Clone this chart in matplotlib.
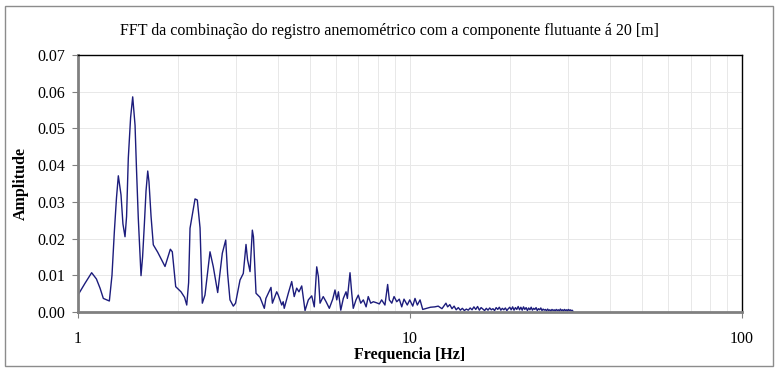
import matplotlib
matplotlib.use("Agg")
import matplotlib.pyplot as plt
from matplotlib.patches import Rectangle
from matplotlib.ticker import FixedLocator, NullFormatter, FormatStrFormatter

# values (frequency in Hz, amplitude)
freq_low = [1.000, 1.053, 1.103, 1.140, 1.169, 1.196, 1.247, 1.270, 1.291, 1.310,
            1.327, 1.352, 1.370, 1.390, 1.405, 1.422, 1.445, 1.466, 1.490, 1.505,
            1.524, 1.553, 1.570, 1.589, 1.608, 1.627, 1.641, 1.665, 1.691, 1.743,
            1.834, 1.903, 1.929, 1.975, 2.049, 2.100, 2.132, 2.160, 2.181, 2.258,
            2.294, 2.338, 2.375, 2.419, 2.505, 2.563, 2.642, 2.728, 2.793, 2.830,
            2.877, 2.944, 2.990, 3.084, 3.155, 3.215, 3.250, 3.306, 3.359, 3.385,
            3.446, 3.543, 3.650, 3.690, 3.823, 3.860, 3.977, 4.020, 4.118, 4.160,
            4.190, 4.310, 4.413, 4.490, 4.568, 4.640, 4.730, 4.840, 4.952, 5.070,
            5.160, 5.248, 5.310, 5.370]
amp_low = [0.0044, 0.0078, 0.0107, 0.0090, 0.0065, 0.0037, 0.0030, 0.0100, 0.0219, 0.0310,
           0.0371, 0.0319, 0.0240, 0.0205, 0.0260, 0.0419, 0.0530, 0.0586, 0.0509, 0.0390,
           0.0255, 0.0099, 0.0150, 0.0237, 0.0330, 0.0384, 0.0355, 0.0260, 0.0183, 0.0163,
           0.0124, 0.0171, 0.0164, 0.0069, 0.0055, 0.0040, 0.0019, 0.0080, 0.0228, 0.0308,
           0.0305, 0.0229, 0.0024, 0.0046, 0.0164, 0.0123, 0.0053, 0.0160, 0.0196, 0.0105,
           0.0033, 0.0016, 0.0024, 0.0087, 0.0105, 0.0184, 0.0142, 0.0110, 0.0223, 0.0205,
           0.0051, 0.0040, 0.0010, 0.0037, 0.0067, 0.0024, 0.0055, 0.0046, 0.0019, 0.0028,
           0.0010, 0.0051, 0.0083, 0.0042, 0.0065, 0.0055, 0.0071, 0.0004, 0.0033, 0.0044,
           0.0014, 0.0123, 0.0096, 0.0024]

freq_mid = [5.49, 5.60, 5.727, 5.864, 5.957, 6.03, 6.10, 6.20, 6.31, 6.43,
            6.49, 6.61, 6.69, 6.76, 6.89, 7.00, 7.12, 7.25, 7.39, 7.50,
            7.63, 7.77, 7.95, 8.10, 8.23, 8.42, 8.58, 8.68, 8.83, 8.97,
            9.14, 9.30, 9.46, 9.61, 9.83, 10.00, 10.21, 10.37, 10.54, 10.74,
            10.94, 11.25, 11.55, 11.90, 12.18, 12.50, 12.85]
amp_mid = [0.0042, 0.0028, 0.0010, 0.0035, 0.0060, 0.0033, 0.0055, 0.0005, 0.0037, 0.0055,
           0.0037, 0.0107, 0.0051, 0.0010, 0.0033, 0.0046, 0.0024, 0.0033, 0.0014, 0.0042,
           0.0024, 0.0028, 0.0025, 0.0022, 0.0033, 0.0019, 0.0075, 0.0033, 0.0024, 0.0042,
           0.0028, 0.0035, 0.0014, 0.0035, 0.0019, 0.0033, 0.0016, 0.0037, 0.0019, 0.0033,
           0.0007, 0.0010, 0.0013, 0.0014, 0.0016, 0.0009, 0.0024]

freq_tail = [13.0, 13.2, 13.4, 13.6, 13.8, 14.0, 14.2, 14.4, 14.6, 14.8,
             15.0, 15.2, 15.4, 15.6, 15.8, 16.0, 16.2, 16.4, 16.6, 16.8,
             17.0, 17.2, 17.4, 17.6, 17.8, 18.0, 18.2, 18.4, 18.6, 18.8,
             19.0, 19.2, 19.4, 19.6, 19.8, 20.0, 20.2, 20.4, 20.6, 20.8,
             21.0, 21.2, 21.4, 21.6, 21.8, 22.0, 22.2, 22.4, 22.6, 22.8,
             23.0, 23.2, 23.4, 23.6, 23.8, 24.0, 24.2, 24.4, 24.6, 24.8,
             25.0, 25.2, 25.4, 25.6, 25.8, 26.0, 26.2, 26.4, 26.6, 26.8,
             27.0, 27.2, 27.4, 27.6, 27.8, 28.0, 28.2, 28.4, 28.6, 28.8,
             29.0, 29.2, 29.4, 29.6, 29.8, 30.0, 30.2, 30.4, 30.6, 30.8, 31.0]
amp_tail = [0.0014, 0.0020, 0.0009, 0.0016, 0.0006, 0.0012, 0.0005, 0.0010, 0.0004, 0.0008,
            0.0005, 0.0011, 0.0006, 0.0014, 0.0007, 0.0015, 0.0005, 0.0012, 0.0008, 0.0004,
            0.0010, 0.0005, 0.0011, 0.0006, 0.0009, 0.0004, 0.0012, 0.0007, 0.0013, 0.0005,
            0.0010, 0.0006, 0.0011, 0.0004, 0.0009, 0.0013, 0.0006, 0.0014, 0.0005, 0.0012,
            0.0007, 0.0015, 0.0006, 0.0013, 0.0005, 0.0014, 0.0007, 0.0012, 0.0004, 0.0011,
            0.0006, 0.0013, 0.0005, 0.0010, 0.0007, 0.0012, 0.0004, 0.0009, 0.0006, 0.0011,
            0.0004, 0.0008, 0.0005, 0.0007, 0.0003, 0.0008, 0.0004, 0.0006, 0.0003, 0.0007,
            0.0004, 0.0006, 0.0003, 0.0007, 0.0004, 0.0006, 0.0003, 0.0008, 0.0004, 0.0006,
            0.0003, 0.0007, 0.0004, 0.0006, 0.0003, 0.0007, 0.0004, 0.0006, 0.0003, 0.0005, 0.0002]

y_ticks = [0.00, 0.01, 0.02, 0.03, 0.04, 0.05, 0.06, 0.07]
x_ticks = [1, 10, 100]
x_minor = [2, 3, 4, 5, 6, 7, 8, 9, 20, 30, 40, 50, 60, 70, 80, 90]

freqs = freq_low + freq_mid + freq_tail
amps = amp_low + amp_mid + amp_tail

plt.rcParams['font.family'] = ['Liberation Serif', 'DejaVu Serif']

fig = plt.figure(figsize=(7.8, 3.73), dpi=100)
# outer chart border
fig.patches.append(Rectangle((5 / 780, 7 / 373), 768 / 780, 360 / 373, transform=fig.transFigure,
                             fill=False, edgecolor='#8c8c8c', linewidth=1.0))

ax = fig.add_axes([77.5 / 780, 61 / 373, 664.5 / 780, 257 / 373])
ax.plot(freqs, amps, color='#1c1c7c', linewidth=1.0)

ax.set_xscale('log')
ax.set_xlim(1, 100)
ax.set_ylim(0, 0.07)

ax.xaxis.set_major_locator(FixedLocator(x_ticks))
ax.xaxis.set_minor_locator(FixedLocator(x_minor))
ax.xaxis.set_minor_formatter(NullFormatter())
ax.set_xticklabels([str(v) for v in x_ticks])
ax.set_yticks(y_ticks)
ax.yaxis.set_major_formatter(FormatStrFormatter('%.2f'))

ax.grid(True, which='both', color='#e8e8e8', linewidth=0.7)
ax.set_axisbelow(True)

ax.tick_params(axis='y', labelsize=11.5, length=4, color='#808080', pad=5)
ax.tick_params(axis='x', which='major', labelsize=11.5, length=4, color='#808080', pad=10)
ax.tick_params(axis='x', which='minor', length=0)

for side in ['left', 'bottom']:
    ax.spines[side].set_color('#808080')
    ax.spines[side].set_linewidth(2)
for side in ['top', 'right']:
    ax.spines[side].set_color('black')
    ax.spines[side].set_linewidth(1)

ax.set_xlabel('Frequencia [Hz]', fontsize=11.5, fontweight='bold', labelpad=0)
ax.set_ylabel('Amplitude', fontsize=11.5, fontweight='bold', labelpad=6)
fig.text(0.5, 1 - 31 / 373, 'FFT da combinação do registro anemométrico com a componente flutuante á 20 [m]',
         ha='center', va='center', fontsize=11.5)

fig.savefig('out.png', dpi=100)
